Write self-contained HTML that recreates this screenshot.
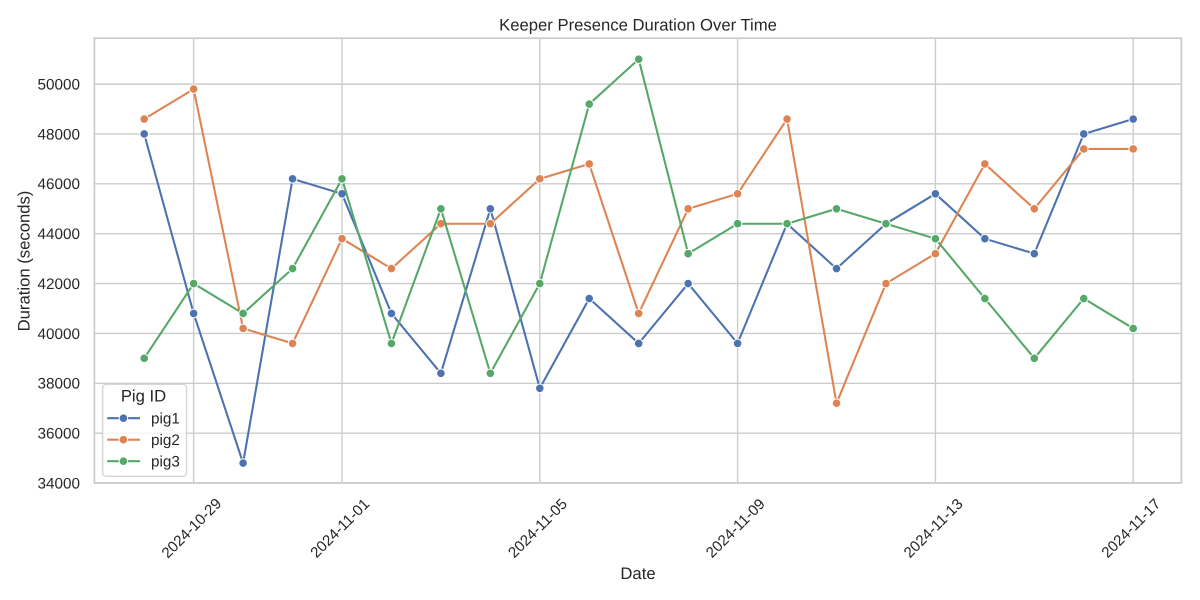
<!DOCTYPE html>
<html lang="en">
<head>
<meta charset="utf-8">
<title>Keeper Presence Duration Over Time</title>
<style>
  html, body { margin: 0; padding: 0; background: #fff; }
  svg { display: block; }
  text { font-family: "Liberation Sans", Arial, sans-serif; fill: #262626; text-rendering: geometricPrecision; }
</style>
</head>
<body>
<svg id="chart" xmlns="http://www.w3.org/2000/svg" width="1200" height="600" viewBox="0 0 1200 600">
  <rect x="0" y="0" width="1200" height="600" fill="#ffffff"/>
  <g id="grid"></g>
  <g id="series"></g>
  <rect x="94.4" y="38.2" width="1087" height="444.7" fill="none" stroke="#cccccc" stroke-width="1.74"/>
  <g id="yticks"></g>
  <g id="xticks"></g>
  <text x="638" y="30.3" font-size="16.67" text-anchor="middle">Keeper Presence Duration Over Time</text>
  <text x="638" y="579" font-size="16.67" text-anchor="middle">Date</text>
  <text x="0" y="0" font-size="16.67" text-anchor="middle" transform="translate(29.5,261) rotate(-90)">Duration (seconds)</text>
  <g id="legend">
    <rect x="102.6" y="384.3" width="83.9" height="92" rx="3.5" ry="3.5" fill="#ffffff" fill-opacity="0.8" stroke="#cccccc" stroke-opacity="0.8" stroke-width="1.39"/>
    <text x="143.5" y="401.5" font-size="16.67" text-anchor="middle">Pig ID</text>
  </g>
</svg>
<script>
const dates = ["2024-10-28","2024-10-29","2024-10-30","2024-10-31","2024-11-01","2024-11-02","2024-11-03","2024-11-04","2024-11-05","2024-11-06","2024-11-07","2024-11-08","2024-11-09","2024-11-10","2024-11-11","2024-11-12","2024-11-13","2024-11-14","2024-11-15","2024-11-16","2024-11-17"];
const pig1 = [48000,40800,34800,46200,45600,40800,38400,45000,37800,41400,39600,42000,39600,44400,42600,44400,45600,43800,43200,48000,48600];
const pig2 = [48600,49800,40200,39600,43800,42600,44400,44400,46200,46800,40800,45000,45600,48600,37200,42000,43200,46800,45000,47400,47400];
const pig3 = [39000,42000,40800,42600,46200,39600,45000,38400,42000,49200,51000,43200,44400,44400,45000,44400,43800,41400,39000,41400,40200];
const seriesNames = ["pig1","pig2","pig3"];
const seriesColors = ["#4c72b0","#dd8452","#55a868"];
const yTickLabels = [34000,36000,38000,40000,42000,44000,46000,48000,50000];
const xTickLabels = ["2024-10-29","2024-11-01","2024-11-05","2024-11-09","2024-11-13","2024-11-17"];

const NS = "http://www.w3.org/2000/svg";
const DAY = 86400000;
const t0 = Date.parse(dates[0]);

function xScale(dateStr) {
  return 144.2 + (Date.parse(dateStr) - t0) / DAY * 49.45;
}
function yScale(v) {
  return 483 - (v - 34000) * 0.02493;
}
function make(tag, attrs) {
  const el = document.createElementNS(NS, tag);
  for (const k in attrs) el.setAttribute(k, attrs[k]);
  return el;
}

const gridG = document.getElementById("grid");
const yTicksG = document.getElementById("yticks");
const xTicksG = document.getElementById("xticks");
const seriesG = document.getElementById("series");
const legendG = document.getElementById("legend");

yTickLabels.forEach(function (v) {
  const y = yScale(v);
  const line = make("line", { x1: 94.4, x2: 1181.4, y1: y, y2: y, stroke: "#cccccc", "stroke-width": 1.39 });
  
  
  gridG.appendChild(line);
  const label = make("text", { x: 80, y: y + 5.4, "font-size": 15.28, "text-anchor": "end" });
  label.textContent = String(v);
  
  
  yTicksG.appendChild(label);
});

xTickLabels.forEach(function (d) {
  const x = xScale(d);
  const line = make("line", { x1: x, x2: x, y1: 38, y2: 483, stroke: "#cccccc", "stroke-width": 1.39 });
  
  
  gridG.appendChild(line);
  const label = make("text", { x: 0, y: 5.3, "font-size": 15.1, "text-anchor": "middle", transform: "translate(" + (x - 2.4) + ",528) rotate(-45)" });
  label.textContent = d;
  
  
  xTicksG.appendChild(label);
});

[pig1, pig2, pig3].forEach(function (values, s) {
  const g = make("g", {});
  
  
  const pts = values.map(function (v, i) { return xScale(dates[i]).toFixed(2) + "," + yScale(v).toFixed(2); }).join(" ");
  const path = make("polyline", { points: pts, fill: "none", stroke: seriesColors[s], "stroke-width": 2.08, "stroke-linejoin": "round", "stroke-linecap": "round" });
  
  
  g.appendChild(path);
  values.forEach(function (v, i) {
    const c = make("circle", { cx: xScale(dates[i]), cy: yScale(v), r: 4.3, fill: seriesColors[s], stroke: "#ffffff", "stroke-width": 1 });
    
    
    g.appendChild(c);
  });
  seriesG.appendChild(g);

  const ly = 418.2 + s * 21.5;
  const entry = make("g", {});
  
  
  const ll = make("line", { x1: 107.2, x2: 140, y1: ly, y2: ly, stroke: seriesColors[s], "stroke-width": 2.08 });
  
  
  entry.appendChild(ll);
  const lm = make("circle", { cx: 123.4, cy: ly, r: 4.3, fill: seriesColors[s], stroke: "#ffffff", "stroke-width": 1 });
  
  
  entry.appendChild(lm);
  const lt = make("text", { x: 151, y: ly + 5.4, "font-size": 15.28 });
  lt.textContent = seriesNames[s];
  
  
  entry.appendChild(lt);
  legendG.appendChild(entry);
});
</script>
</body>
</html>
